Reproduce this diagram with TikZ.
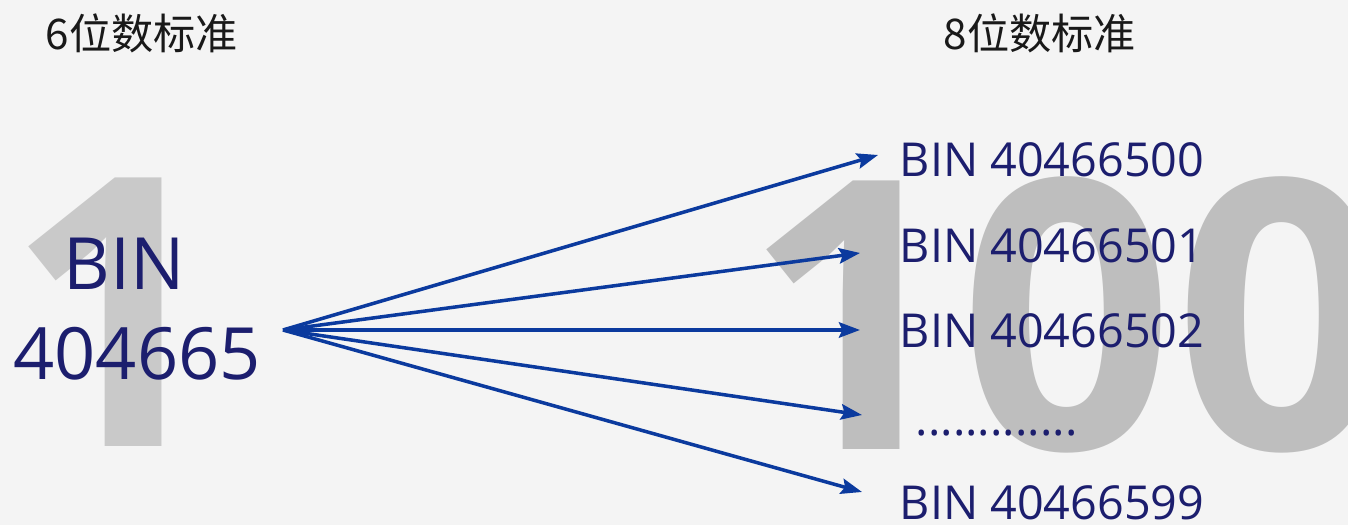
\documentclass[tikz,border=0pt]{standalone}
\usepackage{fontspec}
\setmainfont{Open Sans}
\newfontfamily\cjk{Noto Sans CJK SC}
\usetikzlibrary{arrows.meta}
\definecolor{pagegray}{HTML}{F4F4F4}
\definecolor{bigone}{HTML}{C9C9C9}
\definecolor{bighundred}{HTML}{BEBEBE}
\definecolor{binnavy}{HTML}{1C1E6E}
\definecolor{arrowblue}{HTML}{0B3A9E}
\begin{document}
\begin{tikzpicture}[x=0.01cm,y=-0.01cm,
  bignum/.style={font=\fontsize{107}{107}\bfseries\selectfont,inner sep=0pt,anchor=base},
  head/.style={font=\cjk\fontsize{12}{14}\selectfont,text=black!90,inner sep=0pt,anchor=base west},
  binlbl/.style={font=\fontsize{13.3}{16}\selectfont,text=binnavy,inner sep=0pt,anchor=base west},
  binbig/.style={font=\fontsize{20.5}{24}\selectfont,text=binnavy,inner sep=0pt,anchor=base},
  fan/.style={arrowblue,line width=1pt,-{Stealth[length=6pt,width=4.4pt,inset=1pt]}}]
\fill[pagegray] (0,0) rectangle (1348,525);
\clip (0,0) rectangle (1348,525);
% big numbers behind
\node[bignum,text=bigone] (one) at (114,447) {1};
\node[bignum,text=bighundred] (hundred) at (1067,450) {100};
% headings
\node[head] (six) at (45,50) {6位数标准};
\node[head] (eight) at (943,50) {8位数标准};
% six digit bin
\node[binbig] (binl) at (124,290) {BIN};
\node[binbig] (numl) at (137,380) {404665};
% eight digit bins
\node[binlbl] (b00) at (899,177) {BIN 40466500};
\node[binlbl] (b01) at (899,263) {BIN 40466501};
\node[binlbl] (b02) at (899,348) {BIN 40466502};
\node[binlbl] (dots) at (915,436) {.............};
\node[binlbl] (b99) at (899,520) {BIN 40466599};
% arrows
\coordinate (src) at (283,330);
\coordinate (t00) at (878,155);
\coordinate (t01) at (860,253);
\coordinate (t02) at (860,330);
\coordinate (t03) at (862,415);
\coordinate (t99) at (862,492);
\foreach \t in {t00,t01,t02,t03,t99}
  \draw[fan] (src) -- (\t);
\end{tikzpicture}
\end{document}
